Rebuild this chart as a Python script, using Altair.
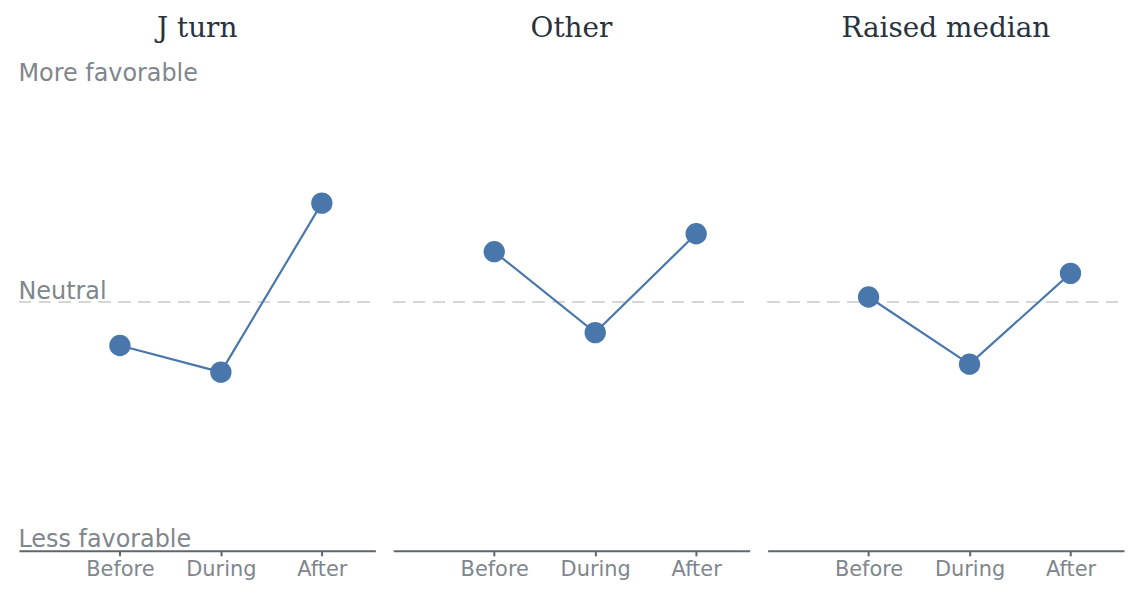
import altair as alt
import pandas as pd

groups = ["J turn", "Other", "Raised median"]
phases = ["Before", "During", "After"]
values_jturn = [-0.175, -0.282, 0.397]
values_other = [0.202, -0.123, 0.274]
values_raised = [0.020, -0.250, 0.115]
y_tick_labels = ["Less favorable", "Neutral", "More favorable"]

rows = []
for g, vals in zip(groups, [values_jturn, values_other, values_raised]):
    for i, (p, v) in enumerate(zip(phases, vals)):
        rows.append({"group": g, "phase": p, "idx": i + 1, "score": v})
df = pd.DataFrame(rows)

x_label_expr = "[''," + ",".join("'%s'" % p for p in phases) + "][datum.value]"
y_label_expr = ("datum.value < -0.5 ? '%s' : (datum.value > 0.5 ? '%s' : '%s')"
                % (y_tick_labels[0], y_tick_labels[2], y_tick_labels[1]))

color = "#4a77ab"
W, H = 358, 500
label_font = "DejaVu Sans"
label_color = "#80868d"

x = alt.X("idx:Q", scale=alt.Scale(domain=[0, 3.53], nice=False, zero=False),
          axis=alt.Axis(values=[1, 2, 3], labelExpr=x_label_expr, title=None, grid=False,
                        domainColor="#5f6670", domainWidth=2, tickColor="#5f6670",
                        tickWidth=2, tickSize=5, labelFontSize=21, labelColor=label_color,
                        labelFont=label_font, labelPadding=3))
y = alt.Y("score:Q", scale=alt.Scale(domain=[-1, 1], nice=False),
          axis=alt.Axis(values=[-0.984, 0.012, 0.89], labelExpr=y_label_expr, title=None,
                        grid=False, domain=False, ticks=False, labelAlign="left",
                        labelBaseline="alphabetic", labelPadding=0, labelFontSize=24,
                        labelLimit=400, labelColor=label_color, labelFont=label_font))

base = alt.Chart(df)
neutral = base.mark_rule(color="#d6d6d6", strokeWidth=2, strokeDash=[12, 8]).encode(
    y=alt.datum(0, type="quantitative"), x=alt.value(0), x2=alt.value(W)
)
line = base.mark_line(color=color, strokeWidth=2.2).encode(x=x, y=y)
pts = base.mark_circle(color=color, size=460, opacity=1).encode(x=x, y=y)

chart = alt.layer(neutral, line, pts).properties(width=W, height=H).facet(
    column=alt.Column("group:N", sort=groups, title=None,
                      header=alt.Header(labelFontSize=28, labelFont="DejaVu Serif",
                                        labelColor="#28313d", labelPadding=10))
).properties(spacing=16, padding={"left": 10, "top": 6, "right": 0, "bottom": 0}
).configure_view(stroke=None)

chart.save("out.html", embed_options={"renderer": "svg", "actions": False})
